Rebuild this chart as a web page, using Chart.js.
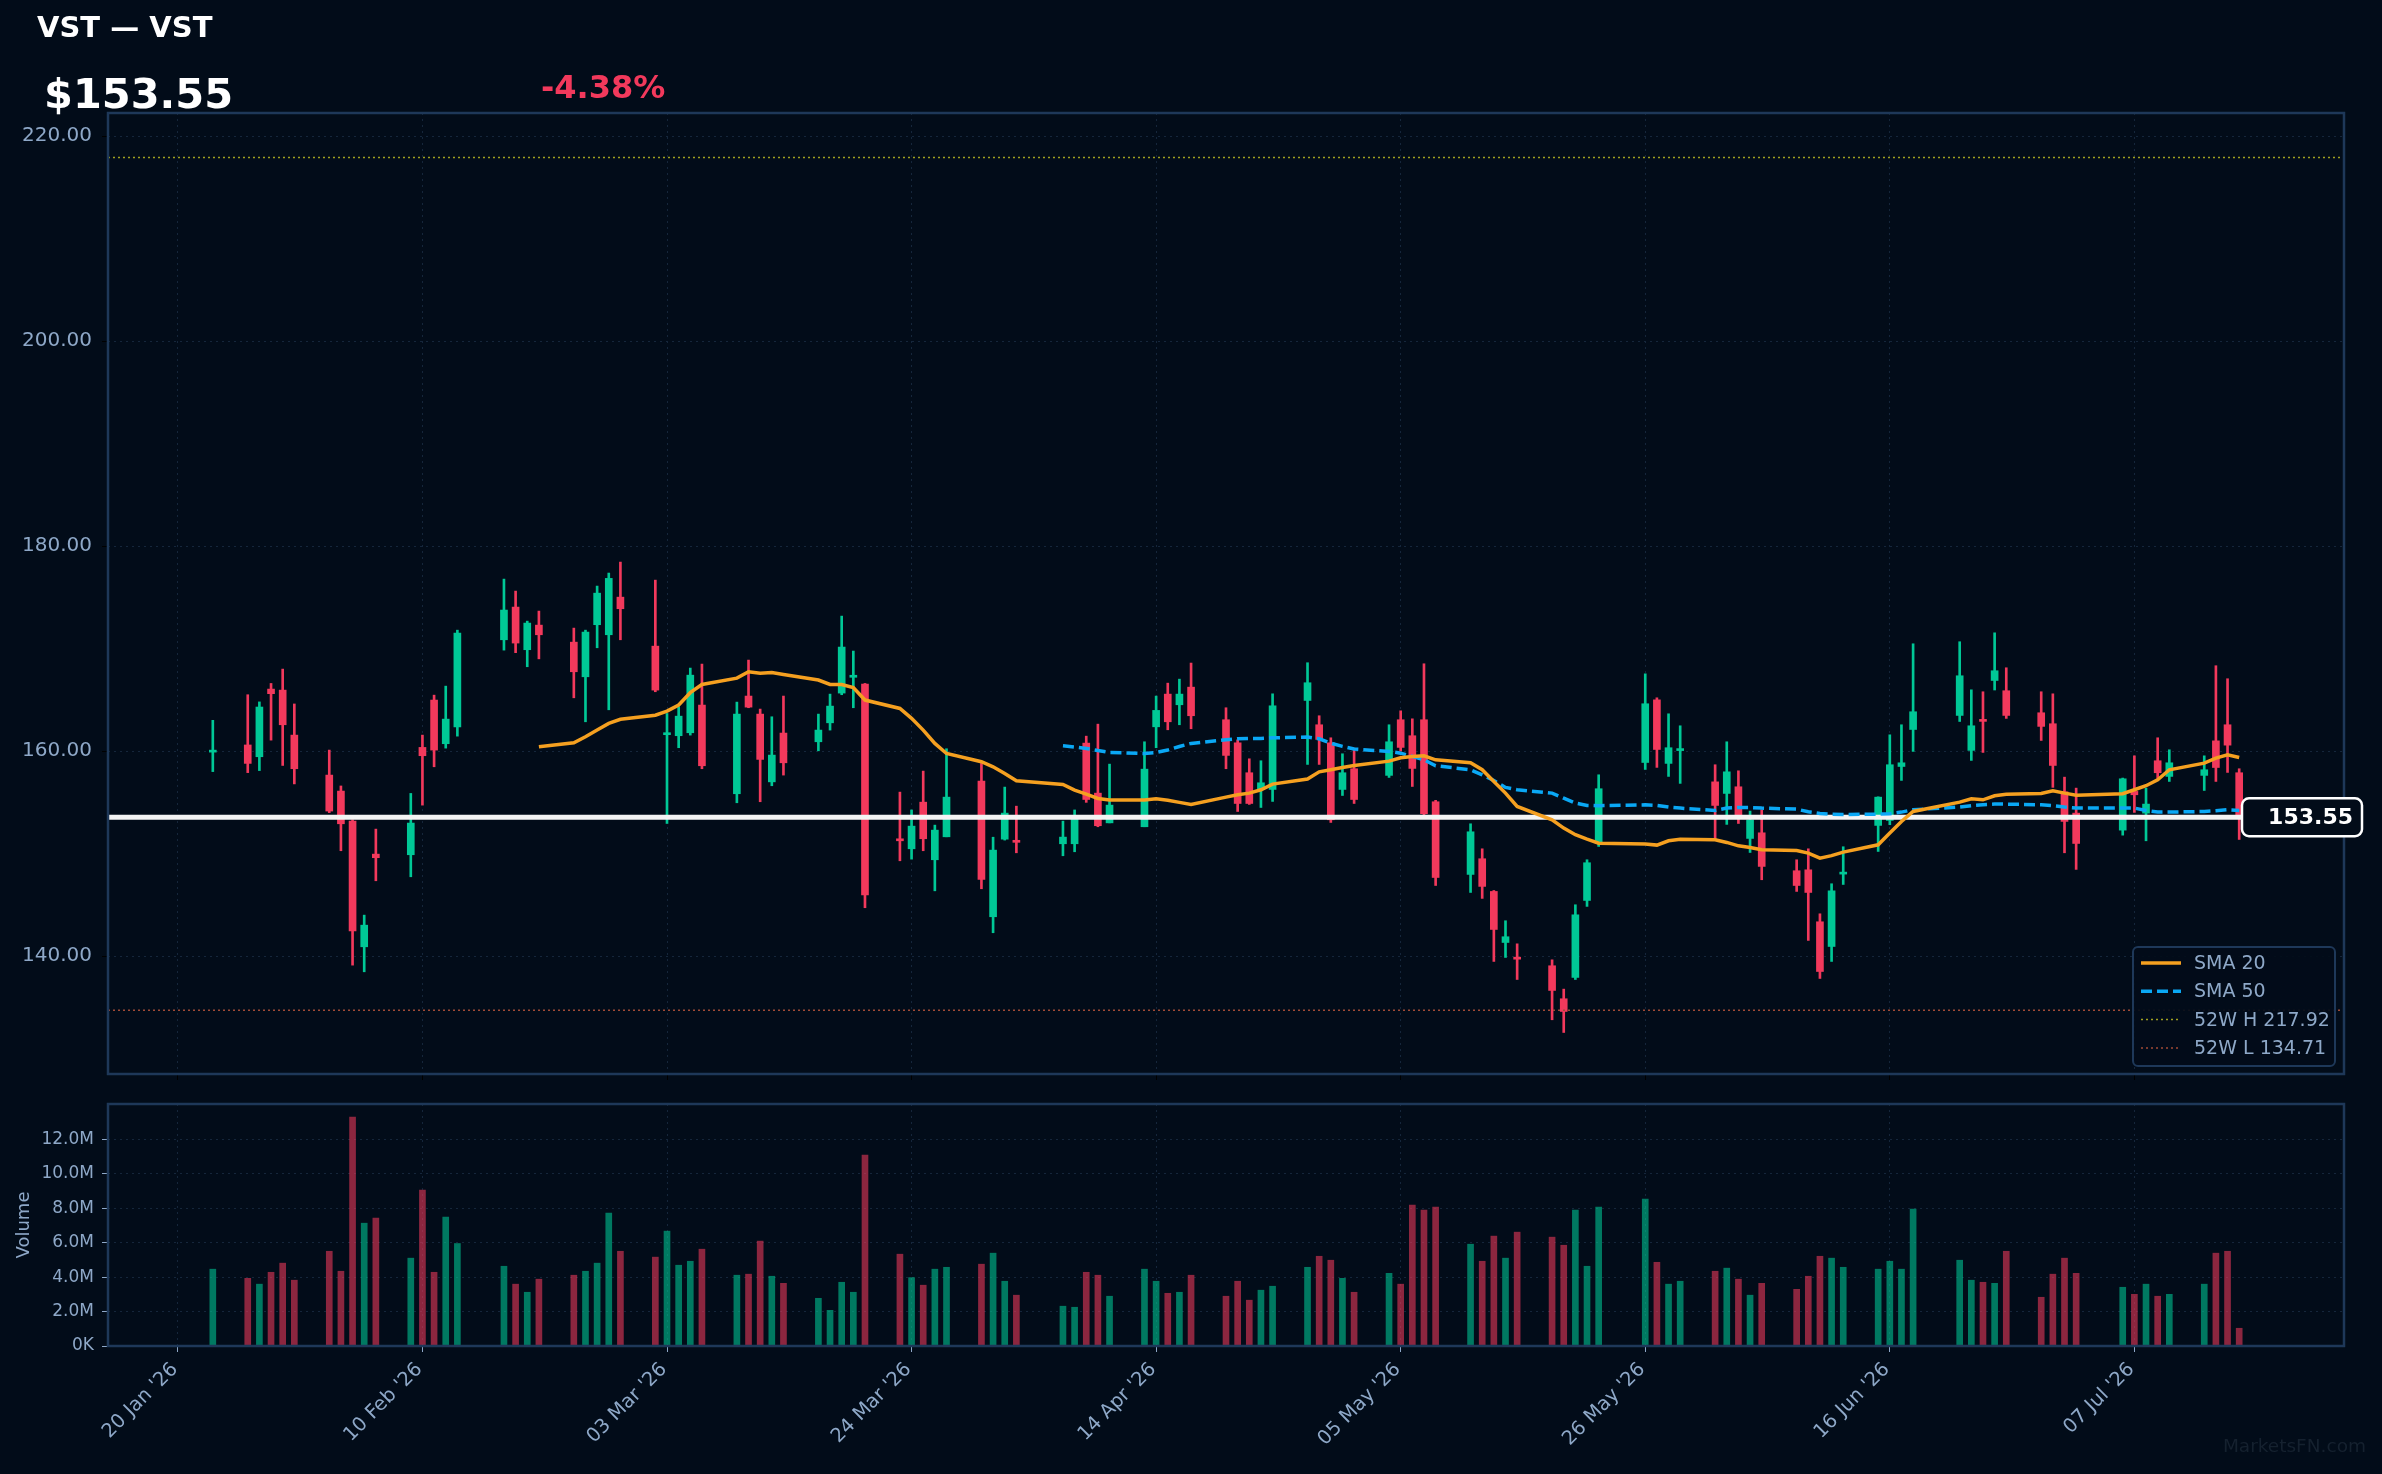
<!DOCTYPE html>
<html>
<head>
<meta charset="utf-8">
<script src="https://cdn.jsdelivr.net/npm/chart.js@4.4.1/dist/chart.umd.min.js"></script>
<style>
  html, body { margin: 0; padding: 0; background: #020c19; }
  body { width: 2382px; height: 1474px; position: relative; overflow: hidden; font-family: 'DejaVu Sans', sans-serif; }
  canvas { position: absolute; left: 0; }
  #priceChart { top: 0; }
  #volChart { top: 1090px; }
  .txt { position: absolute; white-space: nowrap; line-height: 1; font-weight: bold; z-index: 2; }
  #title { left: 37px; top: 13px; font-size: 29px; color: #ffffff; }
  #price { left: 44px; top: 73px; font-size: 41.5px; color: #ffffff; }
  #change { left: 541px; top: 71px; font-size: 32px; color: #f2395c; }
  #mark { position: absolute; right: 16px; top: 1437px; font-size: 18.5px; line-height: 1; color: #15212f; z-index: 2; }
</style>
</head>
<body>
<canvas id="priceChart" width="2382" height="1090"></canvas>
<canvas id="volChart" width="2382" height="384"></canvas>
<div id="title" class="txt">VST — VST</div>
<div id="price" class="txt">$153.55</div>
<div id="change" class="txt">-4.38%</div>
<div id="mark">MarketsFN.com</div>
<script>
// trading days, counted in calendar days from 20 Jan 2026
const days = [3,6,7,8,9,10, 13,14,15,16,17, 20,21,22,23,24, 28,29,30,31,
  34,35,36,37,38, 41,42,43,44,45, 48,49,50,51,52, 55,56,57,58,59,
  62,63,64,65,66, 69,70,71,72, 76,77,78,79,80, 83,84,85,86,87,
  90,91,92,93,94, 97,98,99,100,101, 104,105,106,107,108, 111,112,113,114,115,
  118,119,120,121,122, 126,127,128,129, 132,133,134,135,136, 139,140,141,142,143,
  146,147,148,149, 153,154,155,156,157, 160,161,162,163, 167,168,169,170,171,
  174,175,176,177];

const opens = [159.9,160.6,159.45,166.05,165.95,161.56, 157.66,156.1,153.17,140.91,149.95,
  149.89,160.36,164.98,160.72,162.37, 170.86,174.05,169.89,172.29,
  170.63,167.25,172.33,171.35,175.02, 170.24,161.6,161.5,161.79,164.49,
  155.84,165.37,163.61,157.0,161.76, 160.91,162.76,165.66,167.2,166.54,
  151.4,150.47,155.02,149.4,151.64, 157.07,143.84,151.41,151.3,
  150.96,150.96,160.78,155.9,153.0, 152.62,162.37,165.56,164.52,166.24,
  163.06,160.81,157.89,156.26,156.26, 164.94,162.57,160.81,156.26,158.28,
  157.63,163.06,161.5,163.06,155.06, 147.97,149.5,146.31,141.33,139.8,
  139.06,135.84,137.92,145.43,150.99, 158.89,165.0,158.8,160.05,
  157.0,155.87,156.52,151.48,152.03, 148.33,148.42,143.35,140.94,148.0,
  152.75,153.24,158.5,162.11, 163.48,160.07,163.05,166.89,165.89,
  163.74,162.67,156.03,153.95, 152.29,156.07,153.95,159.06,157.53,
  157.63,161.0,162.57,157.89];

const highs = [163.0,165.5,164.8,166.6,168.0,164.6, 160.1,156.6,153.3,144.0,152.39,
  155.87,161.56,165.46,166.34,171.8, 176.78,175.61,172.68,173.66,
  172.0,171.8,176.1,177.37,178.44, 176.68,163.67,164.33,168.1,168.49,
  164.78,168.88,164.1,163.35,165.37, 163.61,165.56,173.17,169.76,166.6,
  156.0,154.26,158.05,152.78,160.23, 158.8,151.6,156.49,154.63,
  153.17,154.26,161.46,162.63,158.73, 160.91,165.37,166.63,167.02,168.59,
  164.23,161.1,159.25,159.06,165.59, 168.62,163.45,161.3,159.74,160.29,
  162.57,163.93,163.15,168.52,155.2, 152.91,150.47,146.4,143.45,141.2,
  139.64,136.78,145.01,149.4,157.69, 167.54,165.2,163.64,162.47,
  158.67,160.91,158.08,154.15,154.28, 149.4,150.47,144.13,147.06,150.67,
  155.54,161.59,162.57,170.47, 170.67,165.98,165.79,171.54,168.13,
  165.79,165.59,157.46,156.39, 157.37,159.54,156.39,161.3,160.13,
  159.54,168.33,167.06,158.28];

const lows = [158.0,157.9,158.1,161.07,158.6,156.8, 154.0,150.28,139.12,138.47,147.35,
  147.74,154.73,158.47,160.29,161.46, 169.85,169.6,168.23,169.0,
  165.2,162.86,170.08,164.03,170.86, 165.79,152.94,160.33,161.56,158.28,
  154.96,164.23,155.06,156.62,157.66, 160.03,162.05,165.5,164.23,144.72,
  149.3,149.46,150.28,146.37,151.64, 146.57,142.28,151.32,150.08,
  149.79,150.18,155.0,152.62,153.0, 152.62,160.33,162.08,162.57,162.18,
  158.28,154.11,154.8,154.5,155.09, 158.7,158.7,153.04,155.67,154.89,
  157.43,160.0,156.55,153.8,146.89, 146.21,145.63,139.48,139.87,137.72,
  133.79,132.55,137.72,144.85,150.7, 158.21,158.41,157.53,156.85,
  151.45,152.85,152.94,150.11,147.45, 146.31,141.53,137.82,139.48,146.99,
  150.21,152.82,157.14,159.97, 162.89,159.09,159.87,165.96,163.19,
  161.04,156.46,150.08,148.46, 151.8,154.02,151.25,157.33,157.04,
  156.16,157.04,157.92,151.38];

const closes = [160.05,158.8,164.3,165.6,162.57,158.28, 154.15,152.91,142.47,143.02,149.6,
  152.98,159.55,160.1,163.12,171.51, 173.76,170.54,172.49,171.35,
  167.74,171.61,175.41,176.85,173.89, 165.95,161.75,163.41,167.41,158.57,
  163.61,164.29,159.19,159.61,158.86, 162.05,164.39,170.15,167.4,145.98,
  151.25,152.68,151.45,152.29,155.51, 147.48,150.34,153.95,151.1,
  151.61,153.46,155.28,152.72,154.73, 158.24,163.97,162.86,165.56,163.45,
  159.58,154.89,154.89,156.91,164.42, 166.67,161.14,153.3,157.89,155.28,
  160.91,160.36,158.31,153.89,147.67, 152.13,146.8,142.6,141.89,139.7,
  136.65,134.6,144.03,149.11,156.33, 164.62,160.16,160.33,160.15,
  154.7,157.98,153.43,153.3,148.75, 146.89,146.21,138.5,146.37,148.05,
  155.51,158.67,158.86,163.84, 167.35,162.47,162.9,167.84,163.48,
  162.41,158.6,153.14,150.99, 157.3,155.74,154.83,157.89,158.86,
  158.18,158.4,160.58,153.55];

// volume in millions
const volumes = [4.46,3.93,3.59,4.28,4.81,3.82, 5.5,4.34,13.29,7.13,7.42,
  5.1,9.05,4.28,7.48,5.95, 4.63,3.59,3.12,3.88,
  4.11,4.34,4.81,7.71,5.5, 5.16,6.67,4.69,4.92,5.62,
  4.11,4.17,6.09,4.05,3.64, 2.77,2.07,3.7,3.12,11.09,
  5.33,3.97,3.53,4.46,4.57, 4.75,5.39,3.76,2.95,
  2.31,2.25,4.28,4.11,2.89, 4.46,3.76,3.06,3.12,4.11,
  2.89,3.76,2.66,3.24,3.47, 4.57,5.21,4.98,3.93,3.12,
  4.22,3.59,8.18,7.89,8.06, 5.91,4.92,6.38,5.1,6.61,
  6.32,5.85,7.89,4.63,8.06, 8.53,4.86,3.59,3.76,
  4.34,4.52,3.88,2.95,3.64, 3.29,4.05,5.21,5.1,4.57,
  4.46,4.92,4.46,7.95, 4.98,3.82,3.7,3.64,5.5,
  2.83,4.17,5.1,4.22, 3.41,3.0,3.59,2.89,3.0,
  3.59,5.39,5.5,1.03];

const sma20 = [...Array(19).fill(null), 160.42,
  160.81,161.4,162.05,162.7,163.1, 163.5,163.9,164.5,165.7,166.5,
  167.12,167.74,167.6,167.67,167.48, 166.93,166.5,166.5,166.2,164.98,
  164.16,163.2,162.05,160.75,159.77, 158.96,158.47,157.82,157.1,
  156.75,156.2,155.8,155.38,155.22, 155.22,155.35,155.2,155.0,154.8,
  155.51,155.74,155.9,156.23,156.78, 157.27,157.98,158.18,158.4,158.6,
  159.02,159.35,159.48,159.54,159.15, 158.86,158.18,157.04,155.9,154.6,
  153.3,152.49,151.84,151.41,151.02, 150.93,150.83,151.25,151.41,
  151.35,151.09,150.76,150.6,150.37, 150.31,150.05,149.56,149.8,150.15,
  150.86,152.0,153.14,154.11, 155.02,155.35,155.25,155.64,155.8,
  155.87,156.13,155.9,155.7, 155.84,156.23,156.62,157.2,158.18,
  158.83,159.32,159.64,159.38];

const sma50 = [...Array(49).fill(null),
  160.52,160.4,160.26,160.05,159.87, 159.77,159.87,160.1,160.45,160.75,
  161.1,161.2,161.24,161.24,161.3, 161.37,161.2,160.78,160.46,160.2,
  159.97,159.8,159.48,159.15,158.57, 158.18,157.69,157.14,156.46,156.23,
  155.9,155.41,154.93,154.7,154.67, 154.76,154.7,154.54,154.44,
  154.21,154.44,154.5,154.5,154.44, 154.34,154.08,153.92,153.85,153.82,
  153.85,153.89,154.05,154.28, 154.54,154.67,154.76,154.83,154.83,
  154.76,154.67,154.54,154.44, 154.44,154.44,154.21,154.05,154.05,
  154.11,154.18,154.28,154.21];

const tickDays = [0, 21, 42, 63, 84, 105, 126, 147, 168];
const tickLabels = ["20 Jan '26", "10 Feb '26", "03 Mar '26", "24 Mar '26", "14 Apr '26",
  "05 May '26", "26 May '26", "16 Jun '26", "07 Jul '26"];
const priceTicks = [140, 160, 180, 200, 220];
const volumeTicks = [0, 2, 4, 6, 8, 10, 12];

const lastPrice = 153.55;
const high52 = 217.92;
const low52 = 134.71;

const BG = '#020c19';
const FRAME = '#1e3859';
const GRID = '#15263b';
const TEXT = '#8ea8c8';
const UP = '#00c896';
const DOWN = '#f2395c';
const UP_VOL = 'rgba(0,200,150,0.58)';
const DOWN_VOL = 'rgba(242,57,92,0.58)';
const SMA20_COLOR = '#f5a020';
const SMA50_COLOR = '#0aa8f5';
const HI_COLOR = '#a0a020';
const LO_COLOR = '#a04a36';

const xMin = -6, xMax = 186;

Chart.defaults.font.family = "'DejaVu Sans', sans-serif";
Chart.defaults.font.size = 18;
Chart.defaults.color = TEXT;

const isUp = closes.map((c, i) => c >= opens[i]);
const candleColors = isUp.map(u => u ? UP : DOWN);
const volColors = isUp.map(u => u ? UP_VOL : DOWN_VOL);

// keep the plot rectangle fixed: no extra padding from tick labels
const noPad = s => { s.paddingTop = 0; s.paddingBottom = 0; s.paddingLeft = 0; s.paddingRight = 0; };

const framePlugin = {
  id: 'frame',
  afterDatasetsDraw(chart) {
    const { ctx, chartArea: a } = chart;
    ctx.save();
    ctx.strokeStyle = FRAME;
    ctx.lineWidth = 2.5;
    ctx.strokeRect(a.left, a.top, a.right - a.left, a.bottom - a.top);
    ctx.restore();
  }
};

// price tag + legend
const overlayPlugin = {
  id: 'overlay',
  afterDraw(chart) {
    const { ctx, chartArea: a, scales: { y } } = chart;
    const py = y.getPixelForValue(lastPrice);
    const bw = 120, bh = 38, bx = a.right - 102, by = py - bh / 2;
    ctx.save();
    ctx.beginPath();
    ctx.roundRect(bx, by, bw, bh, 7);
    ctx.fillStyle = BG;
    ctx.fill();
    ctx.lineWidth = 2.5;
    ctx.strokeStyle = '#ffffff';
    ctx.stroke();
    ctx.fillStyle = '#ffffff';
    ctx.font = "bold 22px 'DejaVu Sans'";
    ctx.textAlign = 'right';
    ctx.textBaseline = 'middle';
    ctx.fillText(lastPrice.toFixed(2), bx + bw - 9, py + 1);

    // legend box
    const lw = 202, lh = 119;
    const lx = a.right - 9 - lw, ly = a.bottom - 8 - lh;
    ctx.beginPath();
    ctx.roundRect(lx, ly, lw, lh, 5);
    ctx.fillStyle = 'rgba(2,12,25,0.92)';
    ctx.fill();
    ctx.lineWidth = 2;
    ctx.strokeStyle = FRAME;
    ctx.stroke();
    const items = [
      { label: 'SMA 20', color: SMA20_COLOR, width: 3.5, dash: [] },
      { label: 'SMA 50', color: SMA50_COLOR, width: 3.5, dash: [11, 5] },
      { label: '52W H ' + high52.toFixed(2), color: HI_COLOR, width: 1.5, dash: [2, 3] },
      { label: '52W L ' + low52.toFixed(2), color: LO_COLOR, width: 1.5, dash: [2, 3] }
    ];
    ctx.font = "19px 'DejaVu Sans'";
    ctx.textAlign = 'left';
    items.forEach((it, i) => {
      const iy = ly + 16 + i * 28.3;
      ctx.beginPath();
      ctx.setLineDash(it.dash);
      ctx.strokeStyle = it.color;
      ctx.lineWidth = it.width;
      ctx.moveTo(lx + 8, iy);
      ctx.lineTo(lx + 48, iy);
      ctx.stroke();
      ctx.setLineDash([]);
      ctx.fillStyle = TEXT;
      ctx.fillText(it.label, lx + 61, iy + 1);
    });
    ctx.restore();
  }
};

function hLine(value, color, width, dash, order) {
  return {
    type: 'line',
    data: [{ x: xMin, y: value }, { x: xMax, y: value }],
    borderColor: color, borderWidth: width, borderDash: dash,
    pointRadius: 0, order: order
  };
}

new Chart(document.getElementById('priceChart'), {
  type: 'bar',
  data: {
    datasets: [
      { type: 'line', label: 'SMA 20', data: days.map((d, i) => ({ x: d, y: sma20[i] })),
        borderColor: SMA20_COLOR, borderWidth: 3.5, pointRadius: 0, order: 0 },
      { type: 'line', label: 'SMA 50', data: days.map((d, i) => ({ x: d, y: sma50[i] })),
        borderColor: SMA50_COLOR, borderWidth: 3.5, borderDash: [11, 5], pointRadius: 0, order: 1 },
      hLine(lastPrice, '#f4f4f4', 5, [], 2),
      hLine(high52, HI_COLOR, 1.5, [2, 3], 3),
      hLine(low52, LO_COLOR, 1.5, [2, 3], 3),
      { label: 'body', data: days.map((d, i) => ({ x: d, y: [opens[i], closes[i]] })),
        backgroundColor: candleColors, barThickness: 7, minBarLength: 2, grouped: false, order: 4 },
      { label: 'wick', data: days.map((d, i) => ({ x: d, y: [lows[i], highs[i]] })),
        backgroundColor: candleColors, barThickness: 2, grouped: false, order: 5 }
    ]
  },
  options: {
    responsive: false,
    animation: false,
    devicePixelRatio: 1,
    layout: { padding: { left: 0, right: 38, top: 113, bottom: 0 } },
    plugins: { legend: { display: false }, tooltip: { enabled: false } },
    scales: {
      x: {
        type: 'linear', min: xMin, max: xMax, offset: false,
        afterBuildTicks: s => { s.ticks = tickDays.map(v => ({ value: v })); },
        afterFit: s => { s.height = 16; noPad(s); },
        ticks: { display: false },
        grid: { color: GRID, offset: false, tickLength: 6, tickColor: '#000000' },
        border: { display: false, dash: [2, 4] }
      },
      y: {
        type: 'linear', min: 128.5, max: 222.25, beginAtZero: false,
        afterBuildTicks: s => { s.ticks = priceTicks.map(v => ({ value: v })); },
        afterFit: s => { s.width = 108; noPad(s); },
        ticks: { padding: 10, font: { size: 20 }, callback: v => v.toFixed(2) },
        grid: { color: GRID, tickLength: 6, tickColor: '#000000' },
        border: { display: false, dash: [2, 4] }
      }
    }
  },
  plugins: [framePlugin, overlayPlugin]
});

new Chart(document.getElementById('volChart'), {
  type: 'bar',
  data: {
    datasets: [
      { label: 'Volume', data: days.map((d, i) => ({ x: d, y: volumes[i] })),
        backgroundColor: volColors, barThickness: 6 }
    ]
  },
  options: {
    responsive: false,
    animation: false,
    devicePixelRatio: 1,
    layout: { padding: { left: 0, right: 38, top: 14, bottom: 0 } },
    plugins: { legend: { display: false }, tooltip: { enabled: false } },
    scales: {
      x: {
        type: 'linear', min: xMin, max: xMax, offset: false,
        afterBuildTicks: s => { s.ticks = tickDays.map(v => ({ value: v })); },
        afterFit: s => { s.height = 128; noPad(s); },
        ticks: {
          autoSkip: false, minRotation: 45, maxRotation: 45, padding: 6, labelOffset: -3,
          font: { size: 19.5 },
          callback: v => tickLabels[tickDays.indexOf(v)]
        },
        grid: { color: GRID, offset: false, tickLength: 6, tickColor: TEXT },
        border: { display: false, dash: [2, 4] }
      },
      y: {
        type: 'linear', min: 0, max: 14.05,
        afterBuildTicks: s => { s.ticks = volumeTicks.map(v => ({ value: v })); },
        afterFit: s => { s.width = 108; noPad(s); },
        title: { display: true, text: 'Volume', color: TEXT, font: { size: 18 }, padding: { top: 14, bottom: 0 } },
        ticks: { padding: 8, font: { size: 17 }, callback: v => v === 0 ? '0K' : v.toFixed(1) + 'M' },
        grid: { color: GRID, tickLength: 6, tickColor: TEXT },
        border: { display: false, dash: [2, 4] }
      }
    }
  },
  plugins: [framePlugin]
});
</script>
</body>
</html>
